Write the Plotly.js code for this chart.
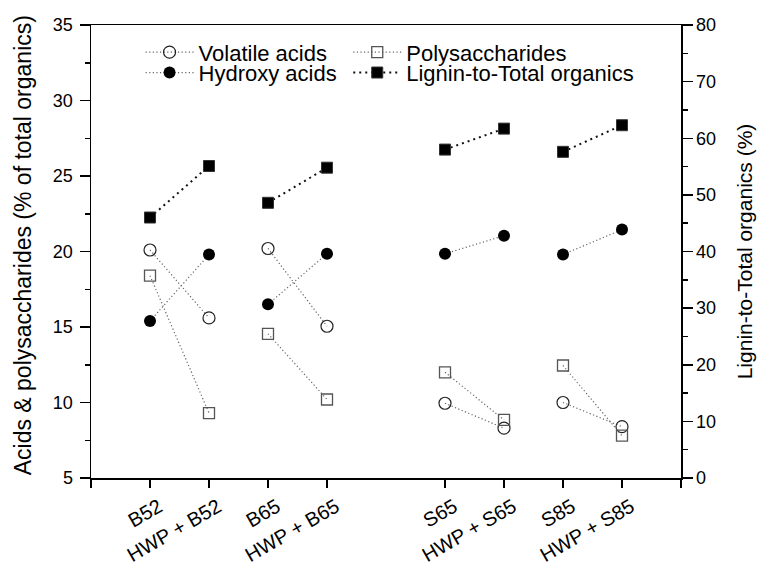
<!DOCTYPE html>
<html>
<head>
<meta charset="utf-8">
<script src="https://cdn.plot.ly/plotly-3.0.1.min.js"></script>
<style>html,body{margin:0;padding:0;background:#fff;}#chart{width:760px;height:573px;}</style>
</head>
<body>
<div id="chart"></div>
<script>
// ---- data ----
const categories = ['B52', 'HWP + B52', 'B65', 'HWP + B65', 'S65', 'HWP + S65', 'S85', 'HWP + S85'];
const volatileAcids = [20.1, 15.6, 20.2, 15.05, 9.95, 8.3, 10.0, 8.4];
const polysaccharides = [18.4, 9.3, 14.55, 10.2, 12.0, 8.85, 12.45, 7.8];
const hydroxyAcids = [15.4, 19.8, 16.5, 19.85, 19.85, 21.05, 19.8, 21.45];
const ligninToTotal = [46.0, 55.1, 48.6, 54.8, 58.0, 61.7, 57.6, 62.3];
const leftTicks = [5, 10, 15, 20, 25, 30, 35];
const rightTicks = [0, 10, 20, 30, 40, 50, 60, 70, 80];
const leftTitle = 'Acids & polysaccharides (% of total organics)';
const rightTitle = 'Lignin-to-Total organics (%)';

// slot positions: each category one slot, an empty slot between the B and S groups
const slot = categories.map((c, i) => i + 1 + (i >= 4 ? 1 : 0));

// build paired segments (break line after each pair)
function paired(vals) {
  const x = [], y = [];
  vals.forEach((v, i) => {
    x.push(slot[i]); y.push(v);
    if (i % 2 === 1 && i < vals.length - 1) { x.push(null); y.push(null); }
  });
  return {x, y};
}

const FONT = 'Arial, "Liberation Sans", sans-serif';
const grayLine = {color: '#666', width: 1.2, dash: '1.2px,2.4px'};

const va = paired(volatileAcids), ps = paired(polysaccharides),
      ha = paired(hydroxyAcids), lg = paired(ligninToTotal);

const traces = [
  {x: va.x, y: va.y, name: 'Volatile acids', legend: 'legend', mode: 'lines+markers', connectgaps: false,
   line: grayLine, marker: {symbol: 'circle-open', size: 12, color: '#222', line: {width: 1.2, color: '#222'}}},
  {x: ps.x, y: ps.y, name: 'Polysaccharides', legend: 'legend2', mode: 'lines+markers', connectgaps: false,
   line: grayLine, marker: {symbol: 'square-open', size: 11, color: '#555', line: {width: 1.3, color: '#555'}}},
  {x: ha.x, y: ha.y, name: 'Hydroxy acids', legend: 'legend3', mode: 'lines+markers', connectgaps: false,
   line: grayLine, marker: {symbol: 'circle', size: 12, color: '#000'}},
  {x: lg.x, y: lg.y, name: 'Lignin-to-Total organics', legend: 'legend4', mode: 'lines+markers', connectgaps: false, yaxis: 'y2',
   line: {color: '#111', width: 2, dash: '2px,4px'}, marker: {symbol: 'square', size: 11, color: '#000', line: {width: 1, color: '#333'}}}
];

function legendAt(x, y) {
  return {orientation: 'v', x: x, y: y, xanchor: 'left', yanchor: 'top',
          font: {family: FONT, size: 22, color: '#000'}, bgcolor: 'rgba(0,0,0,0)',
          borderwidth: 0, itemwidth: 48, tracegroupgap: 0};
}

const layout = {
  width: 760, height: 573,
  margin: {l: 91, r: 79, t: 25, b: 95},
  paper_bgcolor: '#fff', plot_bgcolor: '#fff',
  font: {family: FONT, color: '#000', size: 18},
  showlegend: true,
  legend: legendAt(0.084, 0.986),
  legend2: legendAt(0.436, 0.986),
  legend3: legendAt(0.084, 0.941),
  legend4: legendAt(0.436, 0.941),
  xaxis: {
    range: [0, 10], showgrid: false, zeroline: false,
    showline: true, linecolor: '#000', linewidth: 1.5, mirror: true,
    ticks: 'outside', ticklen: 8, tickwidth: 1.5, tickcolor: '#000',
    tickmode: 'array', tickvals: [0].concat(slot, [10]), ticktext: [''].concat(categories, ['']),
    tickangle: -30, ticklabelshift: 9, tickfont: {family: FONT, size: 20, color: '#000'}
  },
  yaxis: {
    range: [5, 35], showgrid: false, zeroline: false,
    showline: true, linecolor: '#000', linewidth: 1.5,
    ticks: 'outside', ticklen: 10, tickwidth: 1.5, tickcolor: '#000',
    tickmode: 'array', tickvals: leftTicks, ticklabelstandoff: 3,
    minor: {dtick: 2.5, ticks: 'outside', ticklen: 5, tickwidth: 1.5, tickcolor: '#000', showgrid: false},
    tickfont: {family: FONT, size: 18, color: '#000'}
  },
  yaxis2: {
    range: [0, 80], overlaying: 'y', side: 'right', showgrid: false, zeroline: false,
    showline: true, linecolor: '#000', linewidth: 1.5,
    ticks: 'outside', ticklen: 10, tickwidth: 1.5, tickcolor: '#000',
    tickmode: 'array', tickvals: rightTicks,
    minor: {dtick: 5, ticks: 'outside', ticklen: 5, tickwidth: 1.5, tickcolor: '#000', showgrid: false},
    tickfont: {family: FONT, size: 18, color: '#000'},
    title: {text: rightTitle, font: {family: FONT, size: 21, color: '#000'}, standoff: 22}
  },
  annotations: [
    {text: leftTitle, textangle: -90, xref: 'paper', yref: 'paper', x: -0.115, y: 0.514,
     xanchor: 'center', yanchor: 'middle', showarrow: false, font: {family: FONT, size: 23, color: '#000'}}
  ]
};

Plotly.newPlot('chart', traces, layout, {displayModeBar: false, staticPlot: true});
</script>
</body>
</html>
